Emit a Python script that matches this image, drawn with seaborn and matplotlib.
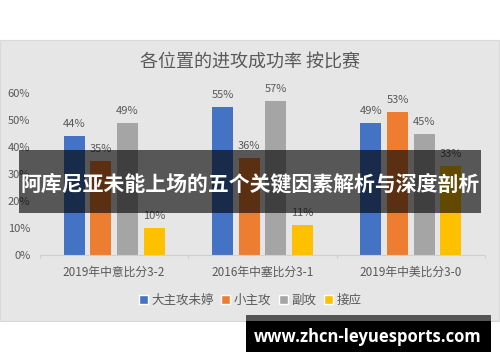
import numpy as np
import pandas as pd
import matplotlib
matplotlib.use("Agg")
import matplotlib.pyplot as plt
import seaborn as sns
from matplotlib.patches import Rectangle, Patch

matches = ["2019年中意比分3-2", "2016年中塞比分3-1", "2019年中美比分3-0"]
positions = ["大主攻未婷", "小主攻", "副攻", "接应"]
rate_main = [0.44, 0.55, 0.49]
rate_second = [0.35, 0.36, 0.53]
rate_middle = [0.49, 0.57, 0.45]
rate_opposite = [0.10, 0.11, 0.33]
colors = ["#4472C4", "#ED7D31", "#A5A5A5", "#FFC000"]

df = pd.DataFrame({
    "match": matches * 4,
    "pos": np.repeat(positions, 3),
    "rate": rate_main + rate_second + rate_middle + rate_opposite,
})

sns.set_style("white")
plt.rcParams['font.family'] = ['Noto Sans CJK SC', 'DejaVu Sans']
txt = "#595959"

W, H = 500, 362
fig = plt.figure(figsize=(5, 3.62), dpi=100)
fig.patch.set_facecolor("white")

# gray chart panel (behind the axes)
fig.patches.append(Rectangle((0, 1 - 321 / H), 499 / W, 281 / H, transform=fig.transFigure,
                             facecolor="#e6e6e6", edgecolor="#d9d9d9", lw=0.8, zorder=-1))

ax = fig.add_axes([40 / W, 1 - 255 / H, 445 / W, 162 / H])
ax.set_facecolor("none")
sns.barplot(data=df, x="match", y="rate", hue="pos", hue_order=positions, palette=colors,
            width=0.72, gap=0.21, ax=ax, legend=False, saturation=1, edgecolor="none")
ax.set_xlim(-0.5, 2.5)
ax.set_ylim(0, 0.6)
ax.set_yticks(np.arange(0, 0.61, 0.1))
ax.set_yticklabels([f"{int(round(v * 100))}%" for v in np.arange(0, 0.61, 0.1)])
ax.tick_params(axis="y", length=0, labelsize=8, labelcolor=txt, pad=7)
ax.tick_params(axis="x", length=0, labelsize=8.5, labelcolor=txt, pad=8)
ax.set_xlabel("")
ax.set_ylabel("")
for s in ["top", "right", "left"]:
    ax.spines[s].set_visible(False)
ax.spines["bottom"].set_color("#d0d0d0")
ax.spines["bottom"].set_linewidth(0.8)
for xb in [-0.5, 0.5, 1.5, 2.5]:
    ax.plot([xb, xb], [0, -0.012], color="#d0d0d0", lw=0.8, clip_on=False)

for cont in ax.containers:
    ax.bar_label(cont, labels=[f"{int(round(v * 100))}%" for v in cont.datavalues],
                 padding=5, fontsize=8, color=txt)

fig.text(250 / W, 1 - 62 / H, "各位置的进攻成功率 按比赛", ha="center", va="center",
         fontsize=13, color=txt)

handles = [Patch(facecolor=c, label=p) for c, p in zip(colors, positions)]
fig.legend(handles=handles, loc="center", bbox_to_anchor=(250 / W, 1 - 300 / H), ncol=4,
           frameon=False, fontsize=9, labelcolor=txt, handlelength=0.7, handleheight=0.7,
           handletextpad=0.3, columnspacing=0.6)

# overlay banner
fig.patches.append(Rectangle((19 / W, 1 - 213 / H), 462 / W, 63 / H, transform=fig.transFigure,
                             facecolor="black", alpha=0.62, edgecolor="none", zorder=5))
fig.text(250 / W, 1 - 184 / H, "阿库尼亚未能上场的五个关键因素解析与深度剖析", ha="center",
         va="center", fontsize=15, fontweight="bold", color="white", zorder=6)

# watermark
fig.patches.append(Rectangle((246 / W, 1 - 321 / H), 245 / W, 6 / H, transform=fig.transFigure,
                             facecolor="#555555", edgecolor="none", zorder=5))
fig.patches.append(Rectangle((246 / W, 1 - 352 / H), 245 / W, 31 / H, transform=fig.transFigure,
                             facecolor="black", edgecolor="none", zorder=5))
fig.text(368 / W, 1 - 337 / H, "www.zhcn-leyuesports.com", ha="center", va="center",
         fontsize=12, fontweight="bold", color="white", family=["Open Sans", "DejaVu Sans"], zorder=6)

fig.savefig("out.png", dpi=100)
